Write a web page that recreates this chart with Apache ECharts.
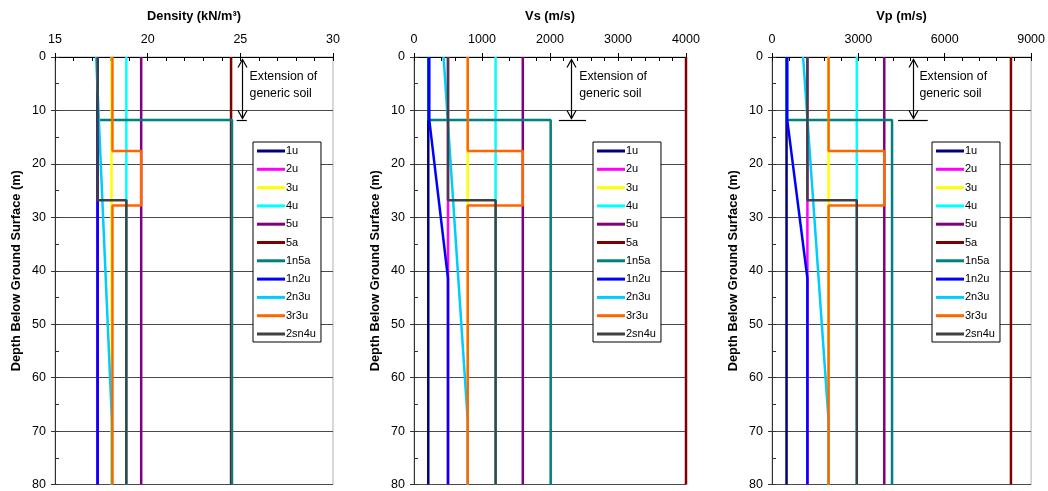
<!DOCTYPE html>
<html>
<head>
<meta charset="utf-8">
<script src="https://cdn.jsdelivr.net/npm/echarts@6/dist/echarts.min.js"></script>
<style>
  html, body { margin: 0; padding: 0; background: #fff; }
  #chart { width: 1048px; height: 491px; }
</style>
</head>
<body>
<div id="chart"></div>
<script>
// Soil profiles: each series is a list of [value, depth (m)] points.
const SOILS = ['1u', '2u', '3u', '4u', '5u', '5a', '1n5a', '1n2u', '2n3u', '3r3u', '2sn4u'];
const COLORS = ['#000080', '#ff00ff', '#ffff00', '#00ffff', '#800080', '#800000',
                '#008080', '#0000ff', '#00ccff', '#ff6600', '#404040'];

// Unit weight (kN/m3)
const DENSITY = {
  '1u':    [[17.3, 0], [17.3, 80]],
  '2u':    [[17.3, 0], [17.3, 80]],
  '3u':    [[18.05, 0], [18.05, 80]],
  '4u':    [[18.85, 0], [18.85, 80]],
  '5u':    [[19.65, 0], [19.65, 80]],
  '5a':    [[24.5, 0], [24.5, 80]],
  '1n5a':  [[17.3, 0], [17.3, 11.8], [24.55, 11.8], [24.55, 80]],
  '1n2u':  [[17.3, 0], [17.3, 11.8], [17.3, 41.4], [17.3, 80]],
  '2n3u':  [[17.22, 0], [18.07, 68], [18.07, 80]],
  '3r3u':  [[18.1, 0], [18.1, 17.6], [19.65, 17.6], [19.65, 27.8], [18.1, 27.8], [18.1, 80]],
  '2sn4u': [[17.3, 0], [17.3, 26.8], [18.85, 26.8], [18.85, 80]]
};

// Shear-wave velocity (m/s)
const VS = {
  '1u':    [[210, 0], [210, 80]],
  '2u':    [[500, 0], [500, 80]],
  '3u':    [[790, 0], [790, 80]],
  '4u':    [[1200, 0], [1200, 80]],
  '5u':    [[1600, 0], [1600, 80]],
  '5a':    [[4000, 0], [4000, 80]],
  '1n5a':  [[215, 0], [215, 11.8], [2010, 11.8], [2010, 80]],
  '1n2u':  [[225, 0], [225, 11.8], [500, 41.4], [500, 80]],
  '2n3u':  [[435, 0], [790, 68], [790, 80]],
  '3r3u':  [[790, 0], [790, 17.6], [1600, 17.6], [1600, 27.8], [790, 27.8], [790, 80]],
  '2sn4u': [[500, 0], [500, 26.8], [1200, 26.8], [1200, 80]]
};

// Compression-wave velocity (m/s)
const VP = {
  '1u':    [[505, 0], [505, 80]],
  '2u':    [[1230, 0], [1230, 80]],
  '3u':    [[1965, 0], [1965, 80]],
  '4u':    [[2945, 0], [2945, 80]],
  '5u':    [[3900, 0], [3900, 80]],
  '5a':    [[8300, 0], [8300, 80]],
  '1n5a':  [[515, 0], [515, 11.8], [4170, 11.8], [4170, 80]],
  '1n2u':  [[530, 0], [530, 11.8], [1230, 41.4], [1230, 80]],
  '2n3u':  [[1080, 0], [1965, 68], [1965, 80]],
  '3r3u':  [[1965, 0], [1965, 17.6], [3900, 17.6], [3900, 27.8], [1965, 27.8], [1965, 80]],
  '2sn4u': [[1230, 0], [1230, 26.8], [2945, 26.8], [2945, 80]]
};

const PANELS = [DENSITY, VS, VP];
const PANEL_TITLES = ['Density (kN/m³)', 'Vs (m/s)', 'Vp (m/s)'];
const X_MIN = [15, 0, 0];
const X_MAX = [30, 4000, 9000];
const X_STEP = [5, 1000, 3000];
const X_MINOR = [1, 200, 600];
const DEPTH_MAX = 80;
const DEPTH_STEP = 10;
const DEPTH_MINOR = 5;
const DEPTH_NAME = 'Depth Below Ground Surface (m)';

// "Extension of generic soil" note: arrow position, depth span and bar extent
const NOTE_TEXT = ['Extension of', 'generic soil'];
const NOTE_X = [25.1, 2310, 4890];
const NOTE_DEPTH = [0, 11.8];
const NOTE_BAR = [[24.8, 25.35], [2130, 2530], [4380, 5410]];
const NOTE_TEXT_X = [25.5, 2430, 5120];

// Layout
const FONT = '"Liberation Sans", Arial, Helvetica, sans-serif';
const GRID_LEFT = [55, 414, 772];
const GRID_WIDTH = [278, 272, 261];
const GRID_TOP = 57;
const GRID_HEIGHT = 431;
const LEGEND_LEFT = [253, 593, 932];
const LEGEND_TOP = 142;

const chart = echarts.init(document.getElementById('chart'), null, { renderer: 'canvas' });

const grids = [], xAxes = [], yAxes = [], series = [], legends = [];
const plainNumber = (v) => String(v);

PANELS.forEach((panel, i) => {
  grids.push({
    left: GRID_LEFT[i], top: GRID_TOP, width: GRID_WIDTH[i], height: GRID_HEIGHT,
    show: true, borderColor: '#b0b0b0', borderWidth: 1, backgroundColor: 'transparent'
  });
  // main x axis: labels and outward major ticks
  xAxes.push({
    type: 'value', gridIndex: i, position: 'top',
    min: X_MIN[i], max: X_MAX[i], interval: X_STEP[i],
    name: PANEL_TITLES[i], nameLocation: 'middle', nameGap: 34,
    nameTextStyle: { fontFamily: FONT, fontSize: 12.8, fontWeight: 'bold', color: '#000' },
    axisLine: { show: true, onZero: false, lineStyle: { color: '#000', width: 1 } },
    axisTick: { show: true, inside: false, length: 4, lineStyle: { color: '#000' } },
    axisLabel: { fontFamily: FONT, fontSize: 12.5, color: '#000', margin: 11, formatter: plainNumber },
    splitLine: { show: false }
  });
  // main y axis: depth labels, outward ticks, horizontal grid
  yAxes.push({
    type: 'value', gridIndex: i, inverse: true, position: 'left',
    min: 0, max: DEPTH_MAX, interval: DEPTH_STEP,
    name: DEPTH_NAME, nameLocation: 'middle', nameGap: 32, nameRotate: 90,
    nameTextStyle: { fontFamily: FONT, fontSize: 12.8, fontWeight: 'bold', color: '#000' },
    axisLine: { show: true, onZero: false, lineStyle: { color: '#333', width: 1 } },
    axisTick: { show: true, inside: false, length: 4, lineStyle: { color: '#333' } },
    axisLabel: { fontFamily: FONT, fontSize: 12.5, color: '#000', margin: 9, formatter: plainNumber },
    splitLine: { show: true, lineStyle: { color: '#4a4a4a', width: 1 } }
  });
});

// minor tick axes (ticks pointing into the plot)
PANELS.forEach((panel, i) => {
  xAxes.push({
    type: 'value', gridIndex: i, position: 'top',
    min: X_MIN[i], max: X_MAX[i], interval: X_MINOR[i],
    axisLine: { show: false, onZero: false },
    axisTick: { show: true, inside: true, length: 4, lineStyle: { color: '#000' } },
    axisLabel: { show: false }, splitLine: { show: false }
  });
  yAxes.push({
    type: 'value', gridIndex: i, inverse: true, position: 'left',
    min: 0, max: DEPTH_MAX, interval: DEPTH_MINOR,
    axisLine: { show: false, onZero: false },
    axisTick: { show: true, inside: true, length: 4, lineStyle: { color: '#333' } },
    axisLabel: { show: false }, splitLine: { show: false }
  });
});

PANELS.forEach((panel, i) => {
  SOILS.forEach((name, k) => {
    series.push({
      type: 'line', name: name, xAxisIndex: i, yAxisIndex: i,
      data: panel[name], symbol: 'none', clip: false,
      color: COLORS[k],
      lineStyle: { color: COLORS[k], width: 2.5 },
      emphasis: { disabled: true }, silent: true, animation: false, z: 2 + k * 0.01
    });
  });
  legends.push({
    data: SOILS.map((s, k) => ({ name: s, icon: 'rect', itemStyle: { color: COLORS[k] } })),
    orient: 'vertical', left: LEGEND_LEFT[i], top: LEGEND_TOP,
    itemWidth: 28, itemHeight: 3, itemGap: 4.3,
    padding: [2, 5, 1, 4],
    backgroundColor: '#fff', borderColor: '#000', borderWidth: 1,
    textStyle: { fontFamily: FONT, fontSize: 11, color: '#000', lineHeight: 14, padding: [0, 0, 0, -4] },
    selectedMode: false, z: 10
  });
});

chart.setOption({
  animation: false,
  backgroundColor: '#fff',
  grid: grids, xAxis: xAxes, yAxis: yAxes,
  series: series, legend: legends
});

// Arrow annotation marking the generic soil layer
function noteGraphics() {
  const els = [];
  const lineStyle = { stroke: '#000', lineWidth: 1.2, fill: null };
  NOTE_X.forEach((xv, i) => {
    const finder = { xAxisIndex: i, yAxisIndex: i };
    const top = chart.convertToPixel(finder, [xv, NOTE_DEPTH[0]]);
    const bot = chart.convertToPixel(finder, [xv, NOTE_DEPTH[1]]);
    const x = Math.round(top[0]) + 0.5;
    const y0 = top[1] + 2.5;
    const y1 = bot[1] - 1.5;
    els.push({ type: 'line', shape: { x1: x, y1: y0, x2: x, y2: y1 }, style: lineStyle, z: 20 });
    els.push({ type: 'polyline', shape: { points: [[x - 4.5, y0 + 8], [x, y0], [x + 4.5, y0 + 8]] }, style: lineStyle, z: 20 });
    els.push({ type: 'polyline', shape: { points: [[x - 4.5, y1 - 8], [x, y1], [x + 4.5, y1 - 8]] }, style: lineStyle, z: 20 });
    const b0 = chart.convertToPixel(finder, [NOTE_BAR[i][0], NOTE_DEPTH[1]]);
    const b1 = chart.convertToPixel(finder, [NOTE_BAR[i][1], NOTE_DEPTH[1]]);
    const by = Math.round(b0[1]) + 0.5;
    els.push({ type: 'line', shape: { x1: b0[0], y1: by, x2: b1[0], y2: by }, style: lineStyle, z: 20 });
    const t = chart.convertToPixel(finder, [NOTE_TEXT_X[i], 0]);
    NOTE_TEXT.forEach((s, j) => {
      els.push({
        type: 'text', x: t[0], y: t[1] + 19.5 + j * 16.7, z: 20,
        style: { text: s, font: '12.3px ' + FONT, fill: '#000', textAlign: 'left', textVerticalAlign: 'middle' }
      });
    });
  });
  return els;
}

chart.setOption({ graphic: noteGraphics() });
</script>
</body>
</html>
